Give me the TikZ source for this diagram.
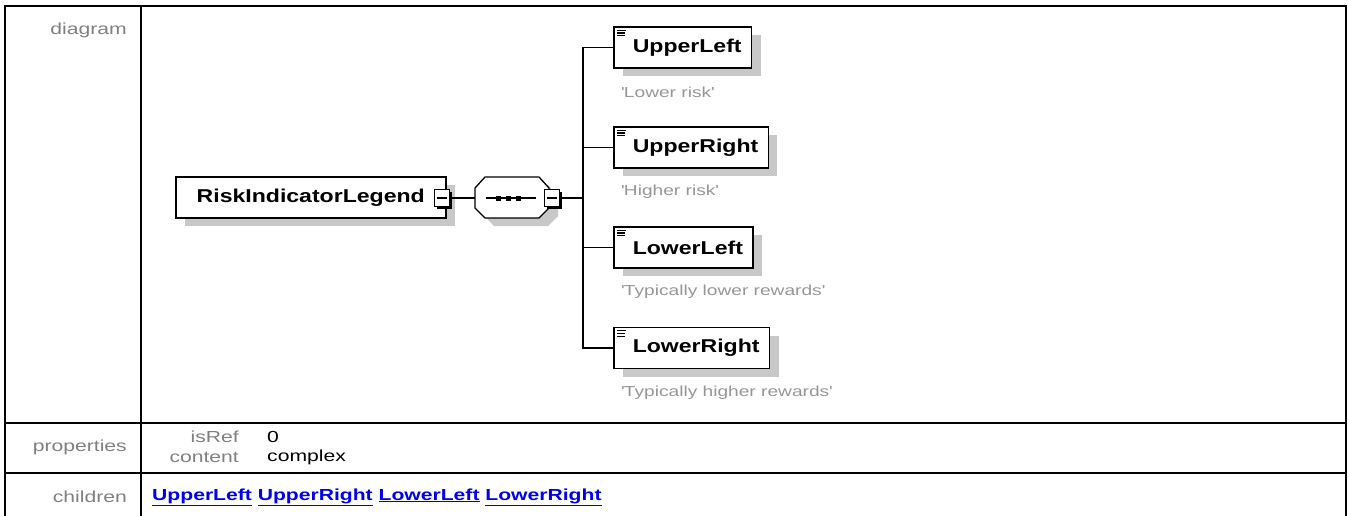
\documentclass[tikz,border=0pt]{standalone}
\usepackage{fontspec}
\usetikzlibrary{shadows}
\newfontfamily\tabfont[FakeStretch=1.32]{Liberation Sans}
\newfontfamily\boxfont[FakeStretch=1.24]{Liberation Sans}
\definecolor{lblgray}{RGB}{128,128,128}
\definecolor{capgray}{RGB}{150,150,150}
\definecolor{shadowgray}{RGB}{200,200,200}
\definecolor{linkblue}{RGB}{0,0,238}
\begin{document}
\begin{tikzpicture}[x=1pt,y=-1pt,
  tbl/.style={line width=2pt},
  rowlbl/.style={font=\tabfont\fontsize{16}{18}\selectfont, text=lblgray, inner sep=0pt, anchor=east},
  val/.style={font=\tabfont\fontsize{16}{18}\selectfont, text=black, inner sep=0pt, anchor=west},
  linktext/.style={font=\tabfont\bfseries\fontsize{16}{18}\selectfont, text=linkblue, inner sep=0pt, anchor=west},
  elem/.style={draw, line width=1.5pt, fill=white, minimum height=41pt, inner xsep=10pt, inner ysep=0pt,
    font=\boxfont\bfseries\fontsize{18.6}{20}\selectfont,
    drop shadow={shadow xshift=9pt, shadow yshift=-8pt, fill=shadowgray, opacity=1}},
  minusbox/.style={draw, fill=white, line width=1pt, minimum width=15pt, minimum height=17pt, inner sep=0pt,
    drop shadow={shadow xshift=2pt, shadow yshift=-2pt, fill=black, opacity=1}},
  conn/.style={line width=1.3pt},
  icon/.style={line width=1.2pt},
  captext/.style={font=\tabfont\fontsize{14.5}{16}\selectfont, text=capgray, inner sep=0pt, anchor=west}
]
\useasboundingbox (0,0) rectangle (1348,516);
% table frame
\draw[tbl] (5,516) -- (5,6) -- (1346,6) -- (1346,516);
\draw[tbl] (141,6) -- (141,516);
\draw[tbl] (5,423) -- (1346,423);
\draw[tbl] (5,473) -- (1346,473);
% row labels
\node[rowlbl] (ldiag) at (127,30) {diagram};
\node[rowlbl] (lprop) at (127,447) {properties};
\node[rowlbl] (lchild) at (127,497) {children};
\node[rowlbl] (kisref) at (239,437) {isRef};
\node[rowlbl] (kcontent) at (239,457) {content};
\node[val] (visref) at (267,437) {0};
\node[val] (vcontent) at (267,457) {complex};
\node[linktext] (links) at (152,497) {\underline{UpperLeft} \underline{UpperRight} \underline{LowerLeft} \underline{LowerRight}};
% diagram
\coordinate (bus) at (583,198);
\node[elem, anchor=west, minimum width=270pt] (root) at (175,197.5) {RiskIndicatorLegend};
% sequence compositor (octagon)
\fill[shadowgray] (484,196) -- (494,185) -- (548,185) -- (558,196) -- (558,216) -- (548,226) -- (494,226) -- (484,216) -- cycle;
\draw[line width=1.3pt, fill=white] (475,188) -- (485,177) -- (539,177) -- (549,188) -- (549,208) -- (539,218) -- (485,218) -- (475,208) -- cycle;
\coordinate (seqw) at (475,198);
\coordinate (seqc) at (512,198);
\draw[line width=1.3pt] (486,198) -- (536,198);
\foreach \d in {-14,-4,6} \fill ([xshift=\d pt]seqc) ++(-2.5,-2.5) rectangle ++(5,5);
\node[minusbox] (rminus) at (442,198) {};
\node[minusbox] (sminus) at (552,198) {};
\foreach \m in {rminus,sminus} \draw[line width=1.2pt] ([xshift=3pt]\m.west) -- ([xshift=-3pt]\m.east);
\node[elem, anchor=west] (ul) at (613,47.5) {\hspace*{9pt}UpperLeft};
\node[elem, anchor=west] (ur) at (613,147.5) {\hspace*{9pt}UpperRight};
\node[elem, anchor=west] (ll) at (613,247.5) {\hspace*{9pt}LowerLeft};
\node[elem, anchor=west] (lr) at (613,348) {\hspace*{9pt}LowerRight};
\foreach \n in {ul,ur,ll,lr} {
  \draw[icon] ([xshift=4pt,yshift=-4pt]\n.north west) -- ++(9,0);
  \draw[icon] ([xshift=4pt,yshift=-6.8pt]\n.north west) -- ++(8,0);
  \draw[icon] ([xshift=4pt,yshift=-9.6pt]\n.north west) -- ++(8,0);
}
\draw[conn] ([xshift=2pt]rminus.east) -- (seqw);
\draw[conn] ([xshift=2pt]sminus.east) -- (bus);
\draw[conn] (bus) |- (ul.west);
\draw[conn] (bus) |- (ur.west);
\draw[conn] (bus) |- (ll.west);
\draw[conn] (bus) |- (lr.west);
\node[captext] (ulc) at (621,92) {\textquotesingle Lower risk\textquotesingle};
\node[captext] (urc) at (621,192) {\textquotesingle Higher risk\textquotesingle};
\node[captext] (llc) at (621,292) {\textquotesingle Typically lower rewards\textquotesingle};
\node[captext] (lrc) at (621,393) {\textquotesingle Typically higher rewards\textquotesingle};
\end{tikzpicture}
\end{document}
